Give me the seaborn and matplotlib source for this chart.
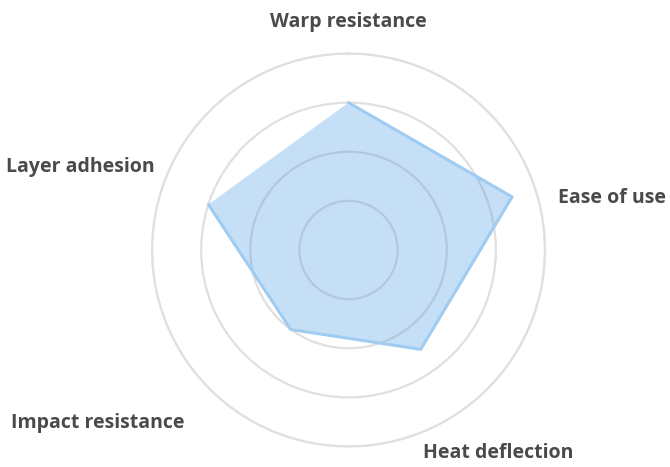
import numpy as np
import pandas as pd
import matplotlib.pyplot as plt
import seaborn as sns

# radar data (scale 0-4)
categories = ["Warp resistance", "Ease of use", "Heat deflection",
              "Impact resistance", "Layer adhesion"]
scores = [3.0, 3.5, 2.5, 2.0, 3.0]
ring_levels = [1, 2, 3, 4]

# label placement: (theta in degrees clockwise from top, radius, h-align)
label_pos = [(0.0, 4.64, "center"), (76.1, 4.40, "left"), (143.7, 5.14, "center"),
             (235.4, 6.21, "center"), (287.2, 5.71, "center")]

sns.set_theme(style="white")
plt.rcParams["font.family"] = ["Open Sans", "DejaVu Sans"]

fig = plt.figure(figsize=(6.7, 4.67), dpi=100)
ax = fig.add_axes([0.2269, 0.0439, 0.5866, 0.8415], projection="polar")
ax.set_theta_offset(np.pi / 2)
ax.set_theta_direction(-1)

angles = np.linspace(0, 2 * np.pi, len(categories), endpoint=False)
df = pd.DataFrame({"theta": np.append(angles, angles[0]),
                   "score": scores + scores[:1]})

# translucent fill so the rings show through, like the original
ax.fill(df["theta"], df["score"], color="#4296e6", alpha=0.3, zorder=3, lw=0)
sns.lineplot(data=df, x="theta", y="score", sort=False, ax=ax,
             color="#a0ccf1", lw=2.2, zorder=4)

ax.set_ylim(0, max(ring_levels))
ax.set_yticks(ring_levels)
ax.set_yticklabels([])
ax.set_xticks(angles)
ax.set_xticklabels([])
ax.xaxis.grid(False)
ax.yaxis.grid(True, color="#e0e0e0", lw=1.6)
ax.spines["polar"].set_color("#e0e0e0")
ax.spines["polar"].set_linewidth(1.6)
ax.set_xlabel("")
ax.set_ylabel("")
ax.tick_params(length=0, pad=0)
ax.set_facecolor("white")

for name, (th, r, ha) in zip(categories, label_pos):
    ax.text(np.deg2rad(th), r, name, ha=ha, va="center", fontsize=14,
            fontweight="bold", color="#4a4a4a", clip_on=False)

fig.savefig("out.png", dpi=100, facecolor="white")
